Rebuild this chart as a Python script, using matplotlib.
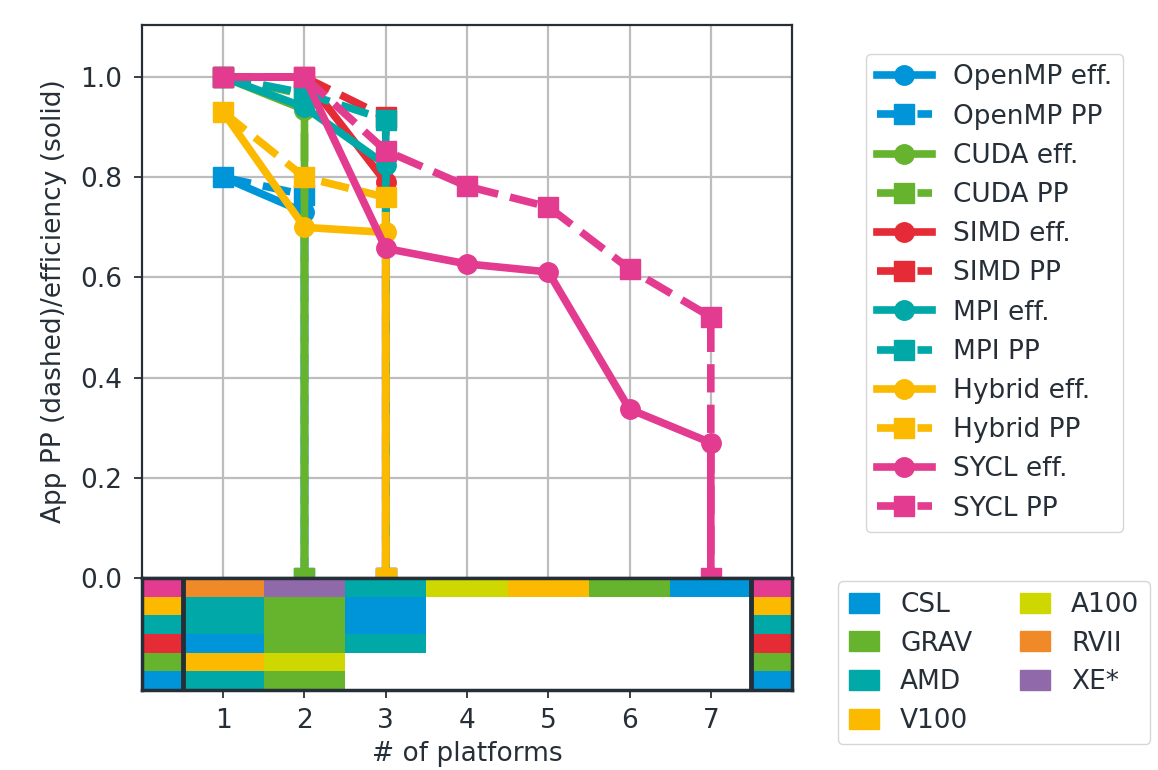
import matplotlib.pyplot as plt
from matplotlib.patches import Patch

# programming models, bottom row of the platform grid first
models = ["OpenMP", "CUDA", "SIMD", "MPI", "Hybrid", "SYCL"]
model_colors = ["#0095d9", "#66b32e", "#e52b35", "#00a8a8", "#fbb900", "#e33b8f"]

# per-platform efficiency (solid) and cumulative app PP (dashed)
eff_openmp = [0.80, 0.73]
eff_cuda = [1.00, 0.935]
eff_simd = [1.00, 1.00, 0.79]
eff_mpi = [1.00, 0.94, 0.825]
eff_hybrid = [0.93, 0.70, 0.69]
eff_sycl = [1.00, 1.00, 0.658, 0.627, 0.611, 0.337, 0.27]

pp_openmp = [0.80, 0.765]
pp_cuda = [1.00, 0.965]
pp_simd = [1.00, 1.00, 0.92]
pp_mpi = [1.00, 0.968, 0.915]
pp_hybrid = [0.93, 0.80, 0.76]
pp_sycl = [1.00, 1.00, 0.853, 0.782, 0.741, 0.617, 0.521]

effs = [eff_openmp, eff_cuda, eff_simd, eff_mpi, eff_hybrid, eff_sycl]
pps = [pp_openmp, pp_cuda, pp_simd, pp_mpi, pp_hybrid, pp_sycl]

# platforms in the order each model reaches them
platforms = ["CSL", "GRAV", "AMD", "V100", "A100", "RVII", "XE*"]
platform_colors = ["#0095d9", "#66b32e", "#00a8a8", "#fbb900", "#cfd700", "#f08a29", "#8f69aa"]
order_openmp = ["AMD", "GRAV"]
order_cuda = ["V100", "A100"]
order_simd = ["CSL", "GRAV", "AMD"]
order_mpi = ["AMD", "GRAV", "CSL"]
order_hybrid = ["AMD", "GRAV", "CSL"]
order_sycl = ["RVII", "XE*", "AMD", "A100", "V100", "GRAV", "CSL"]
orders = [order_openmp, order_cuda, order_simd, order_mpi, order_hybrid, order_sycl]

dark = "#262f38"
plt.rcParams.update({
    "font.size": 19,
    "text.color": dark,
    "axes.labelcolor": dark,
    "axes.edgecolor": dark,
    "xtick.color": dark,
    "ytick.color": dark,
    "xtick.major.size": 6,
    "ytick.major.size": 6,
    "xtick.major.width": 1.3,
    "ytick.major.width": 1.3,
    "xtick.major.pad": 7,
    "ytick.major.pad": 8,
})

fig = plt.figure(figsize=(11.58, 7.70), dpi=100)
ax = fig.add_axes([0.1226, 0.2494, 0.5614, 0.7181])
axb = fig.add_axes([0.1226, 0.1039, 0.5614, 0.1455])

handles = []
for name, col, e, p in zip(models, model_colors, effs, pps):
    n = len(e)
    xs = list(range(1, n + 1)) + [n]
    h1, = ax.plot(xs, e + [0], "-o", color=col, lw=5.5, ms=14, label=name + " eff.")
    h2, = ax.plot(xs, p + [0], "--s", color=col, lw=5.5, ms=14, label=name + " PP")
    handles += [h1, h2]

ax.set_xlim(0, 8)
ax.set_ylim(0, 1.104)
ax.set_xticks(range(1, 8))
ax.set_yticks([0, 0.2, 0.4, 0.6, 0.8, 1.0])
ax.tick_params(axis="x", length=0, labelbottom=False)
ax.grid(True, color="#bdbdbd", lw=1.6)
ax.set_axisbelow(True)
ax.set_ylabel("App PP (dashed)/efficiency (solid)", labelpad=10)
for s in ax.spines.values():
    s.set_linewidth(1.6)

# platform grid under the plot
for row, (order, mcol) in enumerate(zip(orders, model_colors)):
    for j, plat in enumerate(order):
        axb.bar(j + 1, 1, width=1, bottom=row, color=platform_colors[platforms.index(plat)])
    axb.bar(0.25, 1, width=0.5, bottom=row, color=mcol)
    axb.bar(7.75, 1, width=0.5, bottom=row, color=mcol)
axb.axvline(0.5, color=dark, lw=3.5)
axb.axvline(7.5, color=dark, lw=3.5)
axb.set_xlim(0, 8)
axb.set_ylim(0, 6)
axb.set_yticks([])
axb.set_xticks(range(1, 8))
axb.set_xlabel("# of platforms", labelpad=5)
for s in axb.spines.values():
    s.set_linewidth(2.5)

fig.legend(handles=handles, loc="upper left", bbox_to_anchor=(0.748, 0.93),
           borderaxespad=0, labelspacing=0.5, handlelength=2.1)
patches = [Patch(color=c, label=p) for p, c in zip(platforms, platform_colors)]
fig.legend(handles=patches, loc="upper left", bbox_to_anchor=(0.7237, 0.245),
           borderaxespad=0, ncol=2, handlelength=1.15, handleheight=0.8,
           labelspacing=0.48, columnspacing=1.8)

fig.savefig("out.png")
